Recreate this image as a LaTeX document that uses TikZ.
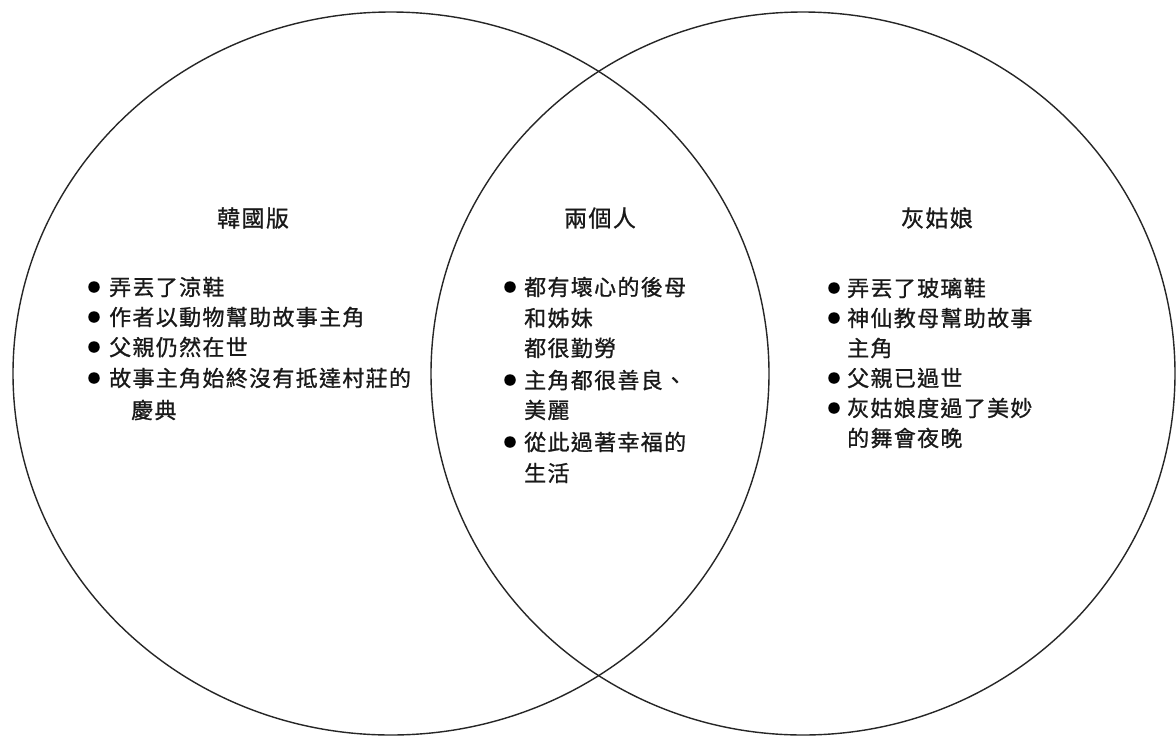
\documentclass[tikz,border=0pt]{standalone}
\usepackage{fontspec}
\newfontfamily\cjk[LetterSpace=6,FakeBold=0.9]{Noto Sans CJK TC}
\tikzset{
  x=1pt,y=-1pt,
  ring/.style={draw=black!85, line width=1.4pt},
  head/.style={font=\cjk\fontsize{23}{23}\selectfont, inner sep=0pt, text=black!90},
  item/.style={font=\cjk\fontsize{22}{22}\selectfont, anchor=west, inner sep=0pt, text=black!90},
  dot/.style={circle, fill=black, inner sep=0pt, minimum size=11.5pt}
}
\begin{document}
\begin{tikzpicture}
\useasboundingbox (0,0) rectangle (1176,740);
\fill[white] (0,0) rectangle (1176,740);
\draw[ring] (391,373.5) ellipse [x radius=378, y radius=361.5];
\draw[ring] (803,373.5) ellipse [x radius=372, y radius=361.5];

% left
\node[head] (lh) at (253,218) {韓國版};
\node[dot] (lb1) at (94,287) {};
\node[item] (l1) at (109,287) {弄丟了涼鞋};
\node[dot] (lb2) at (94,317) {};
\node[item] (l2) at (109,317) {作者以動物幫助故事主角};
\node[dot] (lb3) at (94,347) {};
\node[item] (l3) at (109,347) {父親仍然在世};
\node[dot] (lb4) at (94,378) {};
\node[item] (l4) at (109,378) {故事主角始終沒有抵達村莊的};
\node[item] (l5) at (131,410) {慶典};

% middle
\node[head] (mh) at (600,218) {兩個人};
\node[dot] (mb1) at (510,287) {};
\node[item] (m1) at (524,287) {都有壞心的後母};
\node[item] (m2) at (524,318) {和姊妹};
\node[item] (m3) at (524,348) {都很勤勞};
\node[dot] (mb2) at (510,380) {};
\node[item] (m4) at (524,380) {主角都很善良、};
\node[item] (m5) at (524,410) {美麗};
\node[dot] (mb3) at (510,442) {};
\node[item] (m6) at (524,442) {從此過著幸福的};
\node[item] (m7) at (524,473) {生活};

% right
\node[head] (rh) at (937,218) {灰姑娘};
\node[dot] (rb1) at (834,288) {};
\node[item] (r1) at (847,288) {弄丟了玻璃鞋};
\node[dot] (rb2) at (834,318) {};
\node[item] (r2) at (847,318) {神仙教母幫助故事};
\node[item] (r3) at (847,348) {主角};
\node[dot] (rb3) at (834,378) {};
\node[item] (r4) at (847,378) {父親已過世};
\node[dot] (rb4) at (834,408) {};
\node[item] (r5) at (847,408) {灰姑娘度過了美妙};
\node[item] (r6) at (847,438) {的舞會夜晚};
\end{tikzpicture}
\end{document}
